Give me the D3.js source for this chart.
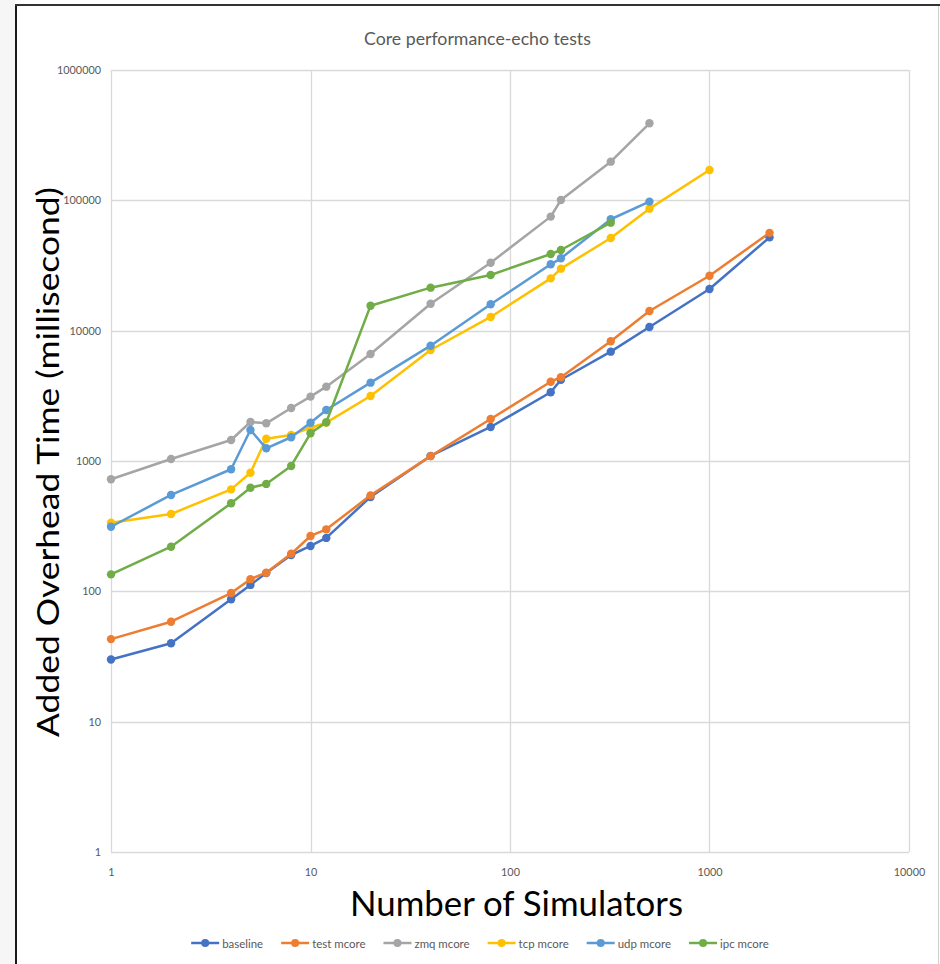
<!DOCTYPE html>
<html><head><meta charset="utf-8">
<script src="https://cdn.jsdelivr.net/npm/d3@7"></script>
<style>html,body{margin:0;padding:0;background:#fff;}svg{display:block;}</style>
</head><body>
<svg id="c" width="940" height="964"></svg>
<script>
const simulators = [1, 2, 4, 5, 6, 8, 10, 12, 20, 40, 80, 160, 180, 320, 500, 1000, 2000];
const baseline  = [30, 40, 87, 112, 138, 190, 223, 257, 530, 1093, 1824, 3370, 4200, 6900, 10670, 20900, 52000];
const testMcore = [43, 58.5, 97, 124, 139, 194, 266, 299, 545, 1090, 2100, 4060, 4390, 8290, 14160, 26400, 56300];
const zmqMcore  = [724, 1036, 1449, 1992, 1946, 2552, 3118, 3718, 6620, 16100, 33200, 75000, 100600, 198000, 390000];
const tcpMcore  = [336, 392, 606, 813, 1483, 1584, 1801, 1968, 3155, 7110, 12740, 25200, 29900, 51400, 86300, 171000];
const udpMcore  = [313, 549, 864, 1730, 1251, 1521, 1968, 2461, 3990, 7670, 15930, 32300, 35900, 71600, 97700];
const ipcMcore  = [135, 220, 474, 624, 667, 916, 1631, 1983, 15550, 21380, 26740, 38740, 41600, 67400];
const seriesNames = ["baseline", "test mcore", "zmq mcore", "tcp mcore", "udp mcore", "ipc mcore"];
const seriesValues = [baseline, testMcore, zmqMcore, tcpMcore, udpMcore, ipcMcore];
const colors = ["#4472C4", "#ED7D31", "#A5A5A5", "#FFC000", "#5B9BD5", "#70AD47"];
const xTicks = [1, 10, 100, 1000, 10000];
const yTicks = [1, 10, 100, 1000, 10000, 100000, 1000000];
const titleText = "Core performance-echo tests";
const xTitle = "Number of Simulators";
const yTitle = "Added Overhead Time (millisecond)";

const svg = d3.select("#c");
const F = "Lato, 'Open Sans', sans-serif";

// frame
svg.append("rect").attr("x",0).attr("y",0).attr("width",15).attr("height",964).attr("fill","#f6f6f6");
svg.append("line").attr("x1",16).attr("x2",16).attr("y1",4).attr("y2",964).attr("stroke","#1a1a1a").attr("stroke-width",2);
svg.append("line").attr("x1",15).attr("x2",940).attr("y1",5).attr("y2",5).attr("stroke","#333").attr("stroke-width",2);
svg.append("line").attr("x1",938.5).attr("x2",938.5).attr("y1",6).attr("y2",964).attr("stroke","#d0d0d0").attr("stroke-width",1);

const L = 111, R = 909, T = 70, B = 852;
const x = d3.scaleLog().domain([1, 10000]).range([L, R]);
const y = d3.scaleLog().domain([1, 1000000]).range([B, T]);

function fit(sel, w) {
  const n = sel.node();
  const cur = parseFloat(sel.attr("font-size"));
  const len = n.getComputedTextLength();
  sel.attr("font-size", (cur * w / len).toFixed(2));
  return sel;
}

// grid
const g = svg.append("g");
g.selectAll("line.gx").data(xTicks).join("line")
  .attr("x1", d => Math.round(x(d)) + 0.5).attr("x2", d => Math.round(x(d)) + 0.5)
  .attr("y1", T).attr("y2", B).attr("stroke", "#d9d9d9").attr("stroke-width", 1.3);
g.selectAll("line.gy").data(yTicks).join("line")
  .attr("y1", d => Math.round(y(d)) + 0.5).attr("y2", d => Math.round(y(d)) + 0.5)
  .attr("x1", L).attr("x2", R).attr("stroke", "#d9d9d9").attr("stroke-width", 1.3);

// tick labels via axes
const xAxis = d3.axisBottom(x).tickValues(xTicks).tickFormat(d3.format("d")).tickSize(0).tickPadding(0);
const ax = svg.append("g").attr("transform", `translate(0,${B + 14})`).call(xAxis);
const yAxis = d3.axisLeft(y).tickValues(yTicks).tickFormat(d3.format("d")).tickSize(0).tickPadding(0);
const ay = svg.append("g").attr("transform", `translate(${101},0)`).call(yAxis);
[ax, ay].forEach(a => {
  a.select(".domain").remove();
  a.selectAll("text").attr("fill", "#595959").attr("font-family", F).attr("font-size", 12);
});
ax.selectAll("text").attr("dy", "0.32em").attr("y", 7);
ay.selectAll("text").attr("x", 0);
const probe = ay.selectAll("text").filter(d => d === 1000000);
const pw = probe.node().getComputedTextLength();
const tfs = 12 * 44 / pw;
ax.selectAll("text").attr("font-size", tfs);
ay.selectAll("text").attr("font-size", tfs);

// titles
fit(svg.append("text").attr("x", 477.5).attr("y", 38).attr("text-anchor", "middle").attr("dominant-baseline", "central")
  .attr("font-family", F).attr("font-size", 16).attr("fill", "#595959").text(titleText), 227);
fit(svg.append("text").attr("x", 516.5).attr("y", 916).attr("text-anchor", "middle")
  .attr("font-family", F).attr("font-size", 34).attr("fill", "#000").text(xTitle), 333);
svg.append("text").attr("transform", "translate(59,462) rotate(-90)").attr("text-anchor", "middle")
  .attr("font-family", F).attr("font-size", 31).attr("fill", "#000")
  .attr("textLength", 550).attr("lengthAdjust", "spacingAndGlyphs").text(yTitle);

// series
const line = d3.line().defined(d => d.v != null).x(d => x(d.s)).y(d => y(d.v));
seriesValues.forEach((vals, i) => {
  const pts = vals.map((v, j) => ({ s: simulators[j], v }));
  const sg = svg.append("g");
  sg.append("path").datum(pts).attr("d", line).attr("fill", "none")
    .attr("stroke", colors[i]).attr("stroke-width", 2.5).attr("stroke-linejoin", "round");
  sg.selectAll("circle").data(pts).join("circle")
    .attr("cx", d => x(d.s)).attr("cy", d => y(d.v)).attr("r", 4.2).attr("fill", colors[i]);
});

// legend
const lg = svg.append("g");
const items = seriesNames.map((n, i) => {
  const it = lg.append("g");
  it.append("line").attr("x1", 0).attr("x2", 28).attr("y1", 0).attr("y2", 0).attr("stroke", colors[i]).attr("stroke-width", 2.5);
  it.append("circle").attr("cx", 14).attr("cy", 0).attr("r", 4).attr("fill", colors[i]);
  const t = it.append("text").attr("x", 31).attr("y", 0).attr("dominant-baseline", "central")
    .attr("font-family", F).attr("font-size", 12).attr("fill", "#595959").text(n);
  return { it, t };
});
const lfs = 12 * 41 / items[0].t.node().getComputedTextLength();
items.forEach(o => o.t.attr("font-size", lfs));
let widths = items.map(o => 31 + o.t.node().getComputedTextLength());
const gap = 18;
const total = d3.sum(widths) + gap * (widths.length - 1);
let cx = 480 - total / 2;
items.forEach((o, i) => { o.it.attr("transform", `translate(${cx},943)`); cx += widths[i] + gap; });
</script>
</body></html>
